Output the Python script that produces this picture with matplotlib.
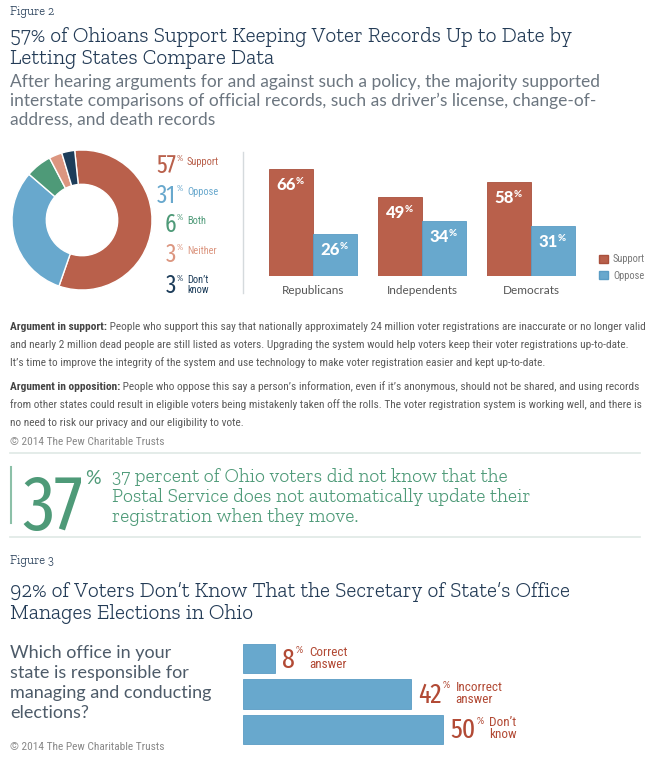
import matplotlib
matplotlib.use('Agg')
import matplotlib.pyplot as plt
import matplotlib.transforms as mtransforms
from matplotlib.patches import Patch

# ---- data ----
donut_labels = ['Support', 'Oppose', 'Both', 'Neither', 'Don\u2019t\nknow']
donut_values = [57, 31, 6, 3, 3]

parties = ['Republicans', 'Independents', 'Democrats']
support = [66, 49, 58]
oppose = [26, 34, 31]

office_labels = ['Correct\nanswer', 'Incorrect\nanswer', 'Don\u2019t\nknow']
office_values = [8, 42, 50]

callout_value = 37

# ---- style ----
RED = '#b9604b'
REDTXT = '#b24a35'
BLUE = '#68a8cd'
GREEN = '#4e9a78'
SALMON = '#dc9680'
NAVY = '#1d3d5a'
TITLE = '#233b56'
GRAY = '#6c7680'
PARA = '#5c5c5c'
donut_colors = [RED, BLUE, GREEN, SALMON, NAVY]

SLAB = ['Zilla Slab', 'Roboto Slab', 'Liberation Serif', 'DejaVu Serif']
SANS = ['Lato', 'DejaVu Sans']
COND = ['Roboto Condensed', 'PT Sans Narrow', 'DejaVu Sans']
NUM = ['Fira Sans Extra Condensed', 'Roboto Condensed', 'DejaVu Sans']

W, H = 650, 777
fig = plt.figure(figsize=(6.5, 7.77), dpi=100)
PX = mtransforms.IdentityTransform()
r = fig.canvas.get_renderer()


def ptext(x, y, s, **kw):
    kw.setdefault('va', 'baseline')
    kw.setdefault('family', SANS)
    return fig.text(x, H - y, s, transform=PX, **kw)


def fit(t, width):
    w = t.get_window_extent(r).width
    t.set_fontsize(t.get_fontsize() * width / w)
    return t.get_fontsize()


def right(t):
    return t.get_window_extent(r).x1


def pbox(x0, y0, w, h):
    return [x0 / W, 1 - (y0 + h) / H, w / W, h / H]


# ---- Figure 2 header ----
ptext(10, 15, 'Figure 2', family=SLAB, fontsize=9, color=TITLE, fontweight='light')
t = ptext(10, 42, '57% of Ohioans Support Keeping Voter Records Up to Date by', family=SLAB,
          fontsize=14, color=TITLE, fontweight='light')
tsize = fit(t, 563)
ptext(10, 64, 'Letting States Compare Data', family=SLAB, fontsize=tsize, color=TITLE, fontweight='light')
sub = ['After hearing arguments for and against such a policy, the majority supported',
       'interstate comparisons of official records, such as driver\u2019s license, change-of-',
       'address, and death records']
t = ptext(10, 87, sub[0], fontsize=11, color=GRAY)
ssize = fit(t, 590)
ptext(10, 106, sub[1], fontsize=ssize, color=GRAY)
ptext(10, 125, sub[2], fontsize=ssize, color=GRAY)

# ---- donut ----
ax1 = fig.add_axes(pbox(12, 150, 140, 140))
ax1.pie(donut_values, colors=donut_colors, startangle=96, counterclock=False,
        wedgeprops=dict(width=0.49, edgecolor='white', linewidth=1))
ax1.set_xlim(-1, 1)
ax1.set_ylim(-1, 1)
ax1.set_aspect('equal')
ax1.axis('off')

leg_y = [173, 203, 232, 262, 293]
for val, lab, col, yy in zip(donut_values, donut_labels, donut_colors, leg_y):
    ptext(176, yy, str(val), ha='right', family=NUM, fontsize=18, color=col)
    ptext(177, yy - 12, '%', ha='left', fontsize=5.5, color=col)
    if '\n' in lab:
        a, b = lab.split('\n')
        ptext(187, yy - 10, a, family=COND, fontsize=7.5, color=col)
        ptext(187, yy, b, family=COND, fontsize=7.5, color=col)
    else:
        ptext(187, yy - 8, lab, family=COND, fontsize=7.5, color=col)

# ---- grouped bars ----
ax2 = fig.add_axes(pbox(243, 150, 402, 126))
step = 109.0
x = list(range(len(parties)))
bw = 44 / step
ax2.bar([i - bw / 2 for i in x], support, bw, color=RED, edgecolor='#a9503c', linewidth=0.6)
ax2.bar([i + bw / 2 for i in x], oppose, bw, color=BLUE, edgecolor='#5a9cc4', linewidth=0.6)
ax2.set_xlim(-70 / step, 332 / step)
ax2.set_ylim(0, 126 / 1.62)
ax2.axis('off')
ax2.plot([0, 0], [-0.135, 0.985], transform=ax2.transAxes, color='#d5dadd', lw=1, clip_on=False)

for i in x:
    for xo, v in [(i - bw / 2, support[i]), (i + bw / 2, oppose[i])]:
        tr = mtransforms.offset_copy(ax2.transData, fig, x=5, y=-21, units='dots')
        ax2.text(xo, v, str(v), transform=tr, ha='right', va='baseline', color='white',
                 fontsize=12, fontweight='black', family=SANS)
        tr2 = mtransforms.offset_copy(ax2.transData, fig, x=4.5, y=-15, units='dots')
        ax2.text(xo, v, '%', transform=tr2, ha='left', va='baseline', color='white',
                 fontsize=7, fontweight='black', family=SANS)
    tr3 = mtransforms.offset_copy(ax2.transData, fig, x=0, y=-18, units='dots')
    ax2.text(i, 0, parties[i], transform=tr3, ha='center', va='baseline', color='#555555',
             fontsize=8.5, family=SANS)

ax2.legend(handles=[Patch(facecolor=RED, edgecolor='#a9503c', label='Support'),
                    Patch(facecolor=BLUE, edgecolor='#5a9cc4', label='Oppose')],
           loc='upper left', bbox_to_anchor=(590 / W, 1 - 245 / H), bbox_transform=fig.transFigure,
           frameon=False, handlelength=0.8, handleheight=0.8, handletextpad=0.5,
           labelspacing=0.6, prop={'family': COND, 'size': 7.5}, labelcolor='#777777')

# ---- arguments ----
para = [
    (330, 'Argument in support:', ' People who support this say that nationally approximately 24 million voter registrations are inaccurate or no longer valid'),
    (348, '', 'and nearly 2 million dead people are still listed as voters. Upgrading the system would help voters keep their voter registrations up-to-date.'),
    (366, '', 'It\u2019s time to improve the integrity of the system and use technology to make voter registration easier and kept up-to-date.'),
    (390, 'Argument in opposition:', ' People who oppose this say a person\u2019s information, even if it\u2019s anonymous, should not be shared, and using records'),
    (408, '', 'from other states could result in eligible voters being mistakenly taken off the rolls. The voter registration system is working well, and there is'),
    (426, '', 'no need to risk our privacy and our eligibility to vote.'),
]
t = ptext(10, -50, para[4][2], family=COND, fontsize=7.5, color=PARA)
psize = fit(t, 632)
t.remove()
for yy, bold, rest in para:
    x0 = 10
    if bold:
        t = ptext(x0, yy, bold, family=COND, fontsize=psize, color='#444444', fontweight='bold')
        x0 = right(t)
    ptext(x0, yy, rest, family=COND, fontsize=psize, color=PARA)
ptext(10, 445, '\u00a9 2014 The Pew Charitable Trusts', family=COND, fontsize=psize, color='#888888')

# ---- callout ----
fig.add_artist(plt.Line2D([10 / W, 640 / W], [1 - 453 / H] * 2, color='#dfe9e5', lw=1.2))
fig.add_artist(plt.Line2D([10 / W, 640 / W], [1 - 537 / H] * 2, color='#dfe9e5', lw=1.2))
fig.add_artist(plt.Line2D([11 / W, 11 / W], [1 - 467 / H, 1 - 523 / H], color='#8cc0a8', lw=1.5))
t = ptext(22, 530, str(callout_value), family=NUM, fontsize=56, color=GREEN)
ptext(right(t) + 2, 484, '%', fontsize=14, color=GREEN)
cl = ['37 percent of Ohio voters did not know that the',
      'Postal Service does not automatically update their',
      'registration when they move.']
t = ptext(112, 502, cl[1], family=SLAB, fontsize=13, color=GREEN, fontweight='light')
csize = fit(t, 418)
ptext(112, 482, cl[0], family=SLAB, fontsize=csize, color=GREEN, fontweight='light')
ptext(112, 522, cl[2], family=SLAB, fontsize=csize, color=GREEN, fontweight='light')

# ---- Figure 3 ----
ptext(10, 564, 'Figure 3', family=SLAB, fontsize=9, color=TITLE, fontweight='light')
ptext(10, 597, '92% of Voters Don\u2019t Know That the Secretary of State\u2019s Office', family=SLAB,
      fontsize=tsize, color=TITLE, fontweight='light')
ptext(10, 619, 'Manages Elections in Ohio', family=SLAB, fontsize=tsize, color=TITLE, fontweight='light')
q = ['Which office in your', 'state is responsible for', 'managing and conducting', 'elections?']
t = ptext(10, 698, q[2], fontsize=13, color='#4d5b69')
qsize = fit(t, 201)
for yy, line in zip([658, 678, 718], [q[0], q[1], q[3]]):
    ptext(10, yy, line, fontsize=qsize, color='#4d5b69')
ptext(10, 750, '\u00a9 2014 The Pew Charitable Trusts', family=COND, fontsize=psize, color='#888888')

ax3 = fig.add_axes(pbox(243, 637.2, 240, 113.6))
pos = list(range(len(office_values)))
ax3.barh(pos, office_values, height=29.5 / 35.5, color=BLUE, edgecolor='#5a9cc4', linewidth=0.6)
ax3.set_xlim(0, 60)
ax3.set_ylim(2.6, -0.6)
ax3.axis('off')
for p, v, lab in zip(pos, office_values, office_labels):
    tr = mtransforms.offset_copy(ax3.transData, fig, x=7, y=-9, units='dots')
    tn = ax3.text(v, p, str(v), transform=tr, ha='left', va='baseline', fontsize=20,
                  color=REDTXT, family=NUM, clip_on=False)
    x1 = right(tn)
    xd, yd = ax3.transData.transform((v, p))
    yc = H - yd
    pc = ptext(x1 + 1, yc - 6, '%', fontsize=6.5, color=REDTXT)
    lx = right(pc) + 6
    a, b = lab.split('\n')
    ptext(lx, yc - 3, a, family=COND, fontsize=9.5, color=REDTXT)
    ptext(lx, yc + 9, b, family=COND, fontsize=9.5, color=REDTXT)

fig.savefig('out.png', dpi=100)
